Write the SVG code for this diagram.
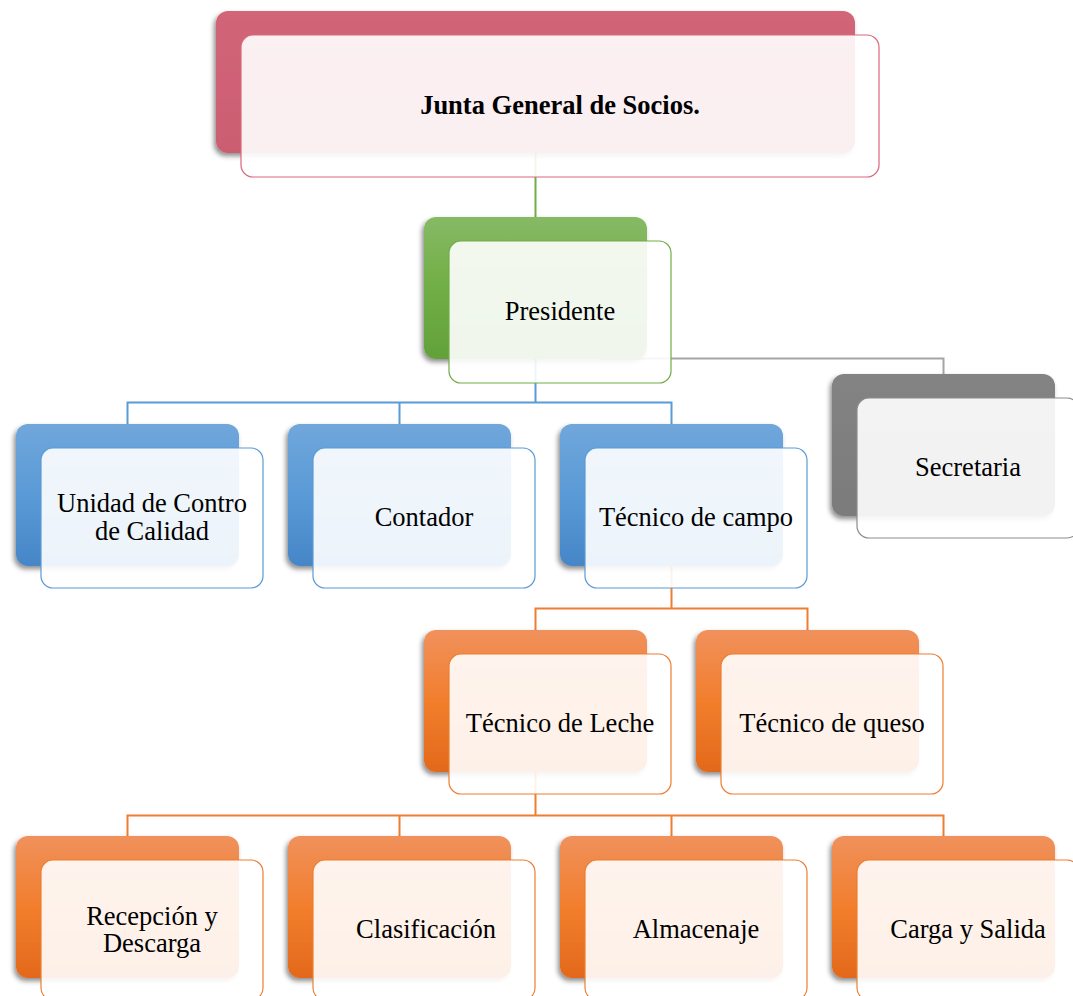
<svg xmlns="http://www.w3.org/2000/svg" width="1073" height="996" viewBox="0 0 1073 996">
  <defs>
    <linearGradient id="gRed" x1="0" y1="0" x2="0" y2="1">
      <stop offset="0" stop-color="#D26578"/>
      <stop offset="1" stop-color="#CC5D71"/>
    </linearGradient>
    <linearGradient id="gGreen" x1="0" y1="0" x2="0" y2="1">
      <stop offset="0" stop-color="#86BA65"/>
      <stop offset="0.5" stop-color="#71AE45"/>
      <stop offset="1" stop-color="#62A13A"/>
    </linearGradient>
    <linearGradient id="gBlue" x1="0" y1="0" x2="0" y2="1">
      <stop offset="0" stop-color="#70A7DB"/>
      <stop offset="0.5" stop-color="#5A9AD6"/>
      <stop offset="1" stop-color="#4686C7"/>
    </linearGradient>
    <linearGradient id="gOrange" x1="0" y1="0" x2="0" y2="1">
      <stop offset="0" stop-color="#F0915C"/>
      <stop offset="0.5" stop-color="#F27E2D"/>
      <stop offset="1" stop-color="#E2691B"/>
    </linearGradient>
    <linearGradient id="gGray" x1="0" y1="0" x2="0" y2="1">
      <stop offset="0" stop-color="#838383"/>
      <stop offset="1" stop-color="#7B7B7B"/>
    </linearGradient>
    <filter id="shadow" x="-10%" y="-10%" width="120%" height="130%">
      <feDropShadow dx="-2" dy="3" stdDeviation="2.5" flood-color="#000" flood-opacity="0.45"/>
    </filter>
  </defs>
  <style>
    .back { filter: url(#shadow); }
    .front { fill: #FFFFFF; fill-opacity: 0.9; stroke-width: 1.2; }
    .lbl { font-family: "Liberation Serif", "Times New Roman", serif; font-size: 26.5px; fill: #000; text-anchor: middle; }
    .bold { font-weight: bold; }
    .conn { fill: none; stroke-width: 2; }
  </style>

  <rect width="1073" height="996" fill="#FFFFFF"/>

  <!-- connectors -->
  <g id="connectors">
    <path class="conn" stroke="#70AD47" d="M535.5 150 V217"/>
    <path class="conn" stroke="#A5A5A5" stroke-width="1" d="M600 358.5 H943.5 V374"/>
    <path class="conn" stroke="#5B9BD5" d="M535.5 355 V402.5 M127.5 424 V402.5 H671.5 V424 M399.5 402.5 V424"/>
    <path class="conn" stroke="#ED7D31" d="M671.5 562 V608.5 M535.5 630 V608.5 H807.5 V630"/>
    <path class="conn" stroke="#ED7D31" d="M535.5 768 V815.5 M127.5 836 V815.5 H943.5 V836 M399.5 815.5 V836 M671.5 815.5 V836"/>
  </g>

  <!-- Junta General de Socios -->
  <g id="junta">
    <rect class="back" x="216" y="11" width="639" height="142" rx="12" fill="url(#gRed)"/>
    <rect class="front" x="241" y="35" width="638" height="142" rx="12" stroke="#D9687B"/>
    <text class="lbl bold" x="560" y="114">Junta General de Socios.</text>
  </g>

  <!-- Presidente -->
  <g id="presidente">
    <rect class="back" x="424" y="217" width="223" height="142" rx="12" fill="url(#gGreen)"/>
    <rect class="front" x="449" y="241" width="222" height="142" rx="12" stroke="#70AD47"/>
    <text class="lbl" x="560" y="320">Presidente</text>
  </g>

  <!-- Secretaria -->
  <g id="secretaria">
    <rect class="back" x="832" y="374" width="223" height="142" rx="12" fill="url(#gGray)"/>
    <rect class="front" x="857" y="398" width="222" height="140" rx="12" stroke="#8C8C8C"/>
    <text class="lbl" x="968" y="476">Secretaria</text>
  </g>

  <!-- Unidad de Control de Calidad -->
  <g id="calidad">
    <rect class="back" x="16" y="424" width="223" height="142" rx="12" fill="url(#gBlue)"/>
    <rect class="front" x="41" y="448" width="222" height="140" rx="12" stroke="#5B9BD5"/>
    <text class="lbl" x="152" y="511.5">Unidad de Contro</text>
    <text class="lbl" x="152" y="540">de Calidad</text>
  </g>

  <!-- Contador -->
  <g id="contador">
    <rect class="back" x="288" y="424" width="223" height="142" rx="12" fill="url(#gBlue)"/>
    <rect class="front" x="313" y="448" width="222" height="140" rx="12" stroke="#5B9BD5"/>
    <text class="lbl" x="424" y="526">Contador</text>
  </g>

  <!-- Técnico de campo -->
  <g id="tecnico-campo">
    <rect class="back" x="560" y="424" width="223" height="142" rx="12" fill="url(#gBlue)"/>
    <rect class="front" x="585" y="448" width="222" height="140" rx="12" stroke="#5B9BD5"/>
    <text class="lbl" x="696" y="526">Técnico de campo</text>
  </g>

  <!-- Técnico de Leche -->
  <g id="tecnico-leche">
    <rect class="back" x="424" y="630" width="223" height="142" rx="12" fill="url(#gOrange)"/>
    <rect class="front" x="449" y="654" width="222" height="140" rx="12" stroke="#ED7D31"/>
    <text class="lbl" x="560" y="732">Técnico de Leche</text>
  </g>

  <!-- Técnico de queso -->
  <g id="tecnico-queso">
    <rect class="back" x="696" y="630" width="223" height="142" rx="12" fill="url(#gOrange)"/>
    <rect class="front" x="721" y="654" width="222" height="140" rx="12" stroke="#ED7D31"/>
    <text class="lbl" x="832" y="732">Técnico de queso</text>
  </g>

  <!-- Recepción y Descarga -->
  <g id="recepcion">
    <rect class="back" x="16" y="836" width="223" height="142" rx="12" fill="url(#gOrange)"/>
    <rect class="front" x="41" y="860" width="222" height="140" rx="12" stroke="#ED7D31"/>
    <text class="lbl" x="152" y="924.5">Recepción y</text>
    <text class="lbl" x="152" y="952">Descarga</text>
  </g>

  <!-- Clasificación -->
  <g id="clasificacion">
    <rect class="back" x="288" y="836" width="223" height="142" rx="12" fill="url(#gOrange)"/>
    <rect class="front" x="313" y="860" width="222" height="140" rx="12" stroke="#ED7D31"/>
    <text class="lbl" x="426" y="938">Clasificación</text>
  </g>

  <!-- Almacenaje -->
  <g id="almacenaje">
    <rect class="back" x="560" y="836" width="223" height="142" rx="12" fill="url(#gOrange)"/>
    <rect class="front" x="585" y="860" width="222" height="140" rx="12" stroke="#ED7D31"/>
    <text class="lbl" x="696" y="938">Almacenaje</text>
  </g>

  <!-- Carga y Salida -->
  <g id="carga">
    <rect class="back" x="832" y="836" width="223" height="142" rx="12" fill="url(#gOrange)"/>
    <rect class="front" x="857" y="860" width="222" height="140" rx="12" stroke="#ED7D31"/>
    <text class="lbl" x="968" y="938">Carga y Salida</text>
  </g>
</svg>
